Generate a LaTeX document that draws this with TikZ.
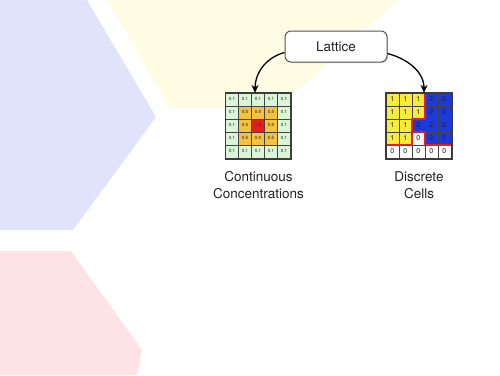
\documentclass[tikz,border=0pt]{standalone}
\usepackage{fontspec}
\setsansfont{TeX Gyre Heros}
\usetikzlibrary{arrows.meta, positioning, shadows}
\definecolor{hexblue}{HTML}{E1E3FA}
\definecolor{hexyellow}{HTML}{FEFCE3}
\definecolor{hexpink}{HTML}{FDE3E6}
\definecolor{cgreen}{HTML}{DBF5D8}
\definecolor{corange}{HTML}{F4C23F}
\definecolor{cred}{HTML}{E81E1E}
\definecolor{cyellow}{HTML}{F7EC3B}
\definecolor{cblue}{HTML}{1C3ADB}
\definecolor{cgrey}{HTML}{555555}
\definecolor{ctext}{HTML}{222222}
\tikzset{
  every picture/.style={font=\sffamily, line width=1.2pt},
  caption/.style={font=\sffamily\fontsize{13.5}{16.5}\selectfont, text=ctext, align=center, inner sep=0pt},
  lattice/.style={draw=cgrey, fill=white, rounded corners=6pt, line width=1pt, minimum width=102pt, minimum height=31pt,
    font=\sffamily\fontsize{13.5}{16}\selectfont, text=ctext, drop shadow={shadow xshift=1pt, shadow yshift=-1pt, opacity=0.3}},
  gridbox/.style={fill=white, minimum size=65pt, inner sep=0pt, drop shadow={shadow xshift=1pt, shadow yshift=-1pt, opacity=0.35}},
  outer/.style={draw=cgrey!70!black, line width=1.4pt},
  ccell/.style={draw=cgrey!80!black, fill=#1, line width=0.6pt, minimum size=13pt, inner sep=0pt, text=ctext,
    font=\sffamily\fontsize{4.5}{5}\selectfont},
  dcell/.style={draw=cgrey!80!black, fill=#1, line width=0.6pt, minimum size=13pt, inner sep=0pt, text=ctext,
    font=\sffamily\fontsize{7}{8}\selectfont},
  arrow/.style={-{Stealth[length=8pt, width=7pt]}, draw=black, line width=1.3pt},
  wall/.style={draw=cred, line width=1.6pt, line cap=round, line join=round},
}

\begin{document}
\begin{tikzpicture}[x=1pt, y=1pt]
  \useasboundingbox (0,0) rectangle (500,-375);
  % pale shapes behind
  \fill[hexblue] (0,0) -- (87,0) -- (156,-117) -- (73,-230) -- (0,-230) -- cycle;
  \fill[hexyellow] (107,0) -- (398,0) -- (278,-108) -- (170,-108) -- cycle;
  \fill[hexpink] (0,-251) -- (71,-251) -- (142,-350) -- (137,-375) -- (0,-375) -- cycle;

  \node[lattice] (lat) at (336,-46.5) {Lattice};
  \node[gridbox] (conc) at (258.5,-126) {};
  \node[gridbox] (cells) at (419,-126) {};

  % continuous concentrations
  \begin{scope}[shift={(conc.north west)}, x=13pt, y=-13pt]
    \foreach \row [count=\j from 0] in {
        {cgreen/0.1,cgreen/0.1,cgreen/0.1,cgreen/0.1,cgreen/0.1},
        {cgreen/0.1,corange/0.5,corange/0.5,corange/0.5,cgreen/0.1},
        {cgreen/0.1,corange/0.5,cred/1.0,corange/0.5,cgreen/0.1},
        {cgreen/0.1,corange/0.5,corange/0.5,corange/0.5,cgreen/0.1},
        {cgreen/0.1,cgreen/0.1,cgreen/0.1,cgreen/0.1,cgreen/0.1}}
      \foreach \c/\v [count=\i from 0] in \row
        \node[ccell=\c] at (\i+0.5,\j+0.5) {\v};
  \end{scope}
  \draw[outer] (conc.north west) rectangle (conc.south east);

  % discrete cells
  \begin{scope}[shift={(cells.north west)}, x=13pt, y=-13pt]
    \foreach \row [count=\j from 0] in {
        {cyellow/1,cyellow/1,cyellow/1,cblue/2,cblue/2},
        {cyellow/1,cyellow/1,cyellow/1,cblue/2,cblue/2},
        {cyellow/1,cyellow/1,cblue/2,cblue/2,cblue/2},
        {cyellow/1,cyellow/1,white/0,cblue/2,cblue/2},
        {white/0,white/0,white/0,white/0,white/0}}
      \foreach \c/\v [count=\i from 0] in \row
        \node[dcell=\c] at (\i+0.5,\j+0.5) {\v};
    \draw[wall] (3,0) -- (3,2) -- (2,2) -- (2,4) -- (0,4);
    \draw[wall] (2,3) -- (3,3) -- (3,4) -- (5,4);
  \end{scope}
  \draw[outer] (cells.north west) rectangle (cells.south east);

  \draw[arrow] ([yshift=-6pt]lat.west) to[out=195, in=90] ([xshift=-3.5pt]conc.north);
  \draw[arrow] ([yshift=-7pt]lat.east) to[out=-15, in=90] ([xshift=5pt]cells.north);

  \node[caption, below=12pt of conc] (conccap) {Continuous\\Concentrations};
  \node[caption, below=12pt of cells] (cellcap) {Discrete\\Cells};
\end{tikzpicture}
\end{document}
